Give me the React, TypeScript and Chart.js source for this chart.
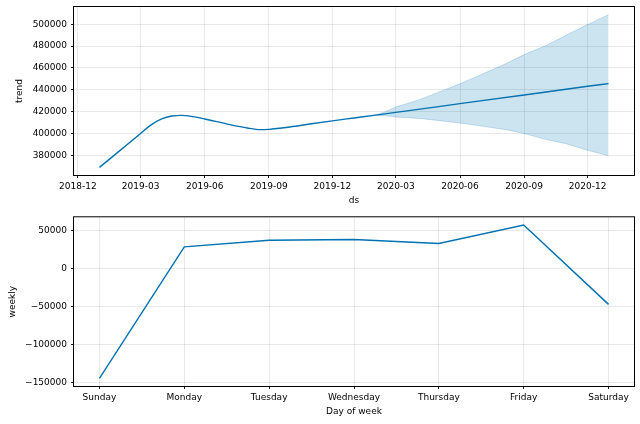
import React, { useEffect, useRef } from "react";
import { Chart, registerables } from "chart.js";

Chart.register(...registerables);

// ---- Trend panel data ----
const trendDates = [
  "2019-01-01", "2019-03-01", "2019-03-15", "2019-04-01", "2019-04-15",
  "2019-04-28", "2019-05-15", "2019-06-01", "2019-07-01", "2019-08-01", "2019-08-20",
  "2019-09-01", "2019-10-01", "2019-11-01", "2019-12-01", "2020-01-01", "2020-02-01",
  "2020-03-01", "2020-06-01", "2020-09-01", "2020-12-01", "2020-12-31",
];
const trendValues = [
  369000, 400000, 407500, 413600, 416000,
  416600, 415400, 413300, 409000, 405000, 403500,
  403800, 406000, 408900, 411600, 414200, 416800,
  419300, 427300, 435300, 443200, 445700,
];

const bandDates = [
  "2020-01-31", "2020-02-15", "2020-03-01", "2020-04-04", "2020-06-01", "2020-06-29",
  "2020-08-06", "2020-09-01", "2020-10-03", "2020-10-31", "2020-12-01", "2020-12-31",
];
const bandUpper = [
  416800, 420000, 424200, 431000, 445600, 453300,
  464000, 472200, 480700, 489900, 499700, 508800,
];
const bandLower = [
  416800, 416200, 415100, 413800, 409600, 407000,
  403500, 399900, 394400, 390700, 384600, 379700,
];

const trendYTicks = [380000, 400000, 420000, 440000, 460000, 480000, 500000];
const trendXTickLabels = [
  "2018-12", "2019-03", "2019-06", "2019-09", "2019-12",
  "2020-03", "2020-06", "2020-09", "2020-12",
];

// ---- Weekly panel data ----
const weekdays = ["Sunday", "Monday", "Tuesday", "Wednesday", "Thursday", "Friday", "Saturday"];
const weeklyValues = [-144300, 29000, 37800, 38700, 33400, 57900, -46800];
const weeklyYTicks = [-150000, -100000, -50000, 0, 50000];

const LINE = "#0072B2";
const BAND = "rgba(0,114,178,0.2)";
const GRID = "rgba(128,128,128,0.2)";
const FONT = "DejaVu Sans";

const fmt = (n: number) => (n < 0 ? "\u2212" + Math.abs(n) : String(n));
const ms = (d: string) => Date.parse(d);

const boxPlugin = {
  id: "box",
  afterDatasetsDraw(chart: any) {
    const { ctx, chartArea: a } = chart;
    ctx.save();
    ctx.strokeStyle = "#000";
    ctx.lineWidth = 1;
    ctx.strokeRect(a.left - 0.5, a.top - 0.5, a.right - a.left + 1, a.bottom - a.top + 1);
    ctx.restore();
  },
};

function commonScaleStyle() {
  return {
    grid: { color: GRID, lineWidth: 0.9, tickColor: "#000", tickLength: 3, drawTicks: true },
    border: { display: false },
  };
}

const fitX = (h: number) => (s: any) => {
  s.height = h;
  s.paddingLeft = 0;
  s.paddingRight = 0;
  s.paddingTop = 0;
  s.paddingBottom = 0;
};
const fitY = (w: number) => (s: any) => {
  s.width = w;
  s.paddingLeft = 0;
  s.paddingRight = 0;
  s.paddingTop = 0;
  s.paddingBottom = 0;
};

export default function App() {
  const topRef = useRef<HTMLCanvasElement>(null);
  const botRef = useRef<HTMLCanvasElement>(null);

  useEffect(() => {
    Chart.defaults.font.family = FONT;
    Chart.defaults.font.size = 9;
    Chart.defaults.color = "#000";

    // ---- top chart ----
    const tx = trendDates.map(ms);
    const bx = bandDates.map(ms);
    const allX = tx.concat(bx);
    const xMin0 = Math.min(...allX);
    const xMax0 = Math.max(...allX);
    const xm = (xMax0 - xMin0) * 0.05;
    const allY = trendValues.concat(bandUpper, bandLower);
    const yMin0 = Math.min(...allY);
    const yMax0 = Math.max(...allY);
    const ym = (yMax0 - yMin0) * 0.05;
    const xTickVals = trendXTickLabels.map((l) => ms(l + "-01"));

    const top = new Chart(topRef.current!, {
      type: "line",
      data: {
        datasets: [
          {
            data: tx.map((x, i) => ({ x, y: trendValues[i] })),
            borderColor: LINE,
            borderWidth: 1.4,
            pointRadius: 0,
            cubicInterpolationMode: "monotone",
            fill: false,
          },
          {
            data: bx.map((x, i) => ({ x, y: bandUpper[i] })),
            borderColor: BAND,
            borderWidth: 1,
            pointRadius: 0,
            fill: false,
          },
          {
            data: bx.map((x, i) => ({ x, y: bandLower[i] })),
            borderColor: BAND,
            borderWidth: 1,
            pointRadius: 0,
            backgroundColor: BAND,
            fill: "-1",
          },
        ],
      },
      options: {
        animation: false,
        responsive: false,
        layout: { padding: { left: 0, right: 6, top: 7, bottom: 0 } },
        plugins: { legend: { display: false }, tooltip: { enabled: false } },
        scales: {
          x: {
            type: "linear",
            min: xMin0 - xm,
            max: xMax0 + xm,
            ...commonScaleStyle(),
            afterBuildTicks: (s: any) => {
              s.ticks = xTickVals.map((v) => ({ value: v }));
            },
            afterFit: fitX(37),
            ticks: {
              maxRotation: 0,
              autoSkip: false,
              padding: 3.5,
              callback: (_v: any, i: number) => trendXTickLabels[i],
            },
            title: { display: true, text: "ds", padding: { top: 0, bottom: 5.6 } },
          },
          y: {
            type: "linear",
            min: yMin0 - ym,
            max: yMax0 + ym,
            ...commonScaleStyle(),
            afterBuildTicks: (s: any) => {
              s.ticks = trendYTicks.map((v) => ({ value: v }));
            },
            afterFit: fitY(74),
            ticks: { padding: 4, callback: (v: any) => fmt(Number(v)) },
            title: { display: true, text: "trend", padding: { top: 14, bottom: 0 } },
          },
        },
      },
      plugins: [boxPlugin],
    } as any);

    // ---- bottom chart ----
    const wMin0 = Math.min(...weeklyValues);
    const wMax0 = Math.max(...weeklyValues);
    const wm = (wMax0 - wMin0) * 0.05;
    const n = weekdays.length - 1;

    const bot = new Chart(botRef.current!, {
      type: "line",
      data: {
        datasets: [
          {
            data: weeklyValues.map((y, i) => ({ x: i, y })),
            borderColor: LINE,
            borderWidth: 1.4,
            pointRadius: 0,
            tension: 0,
            fill: false,
          },
        ],
      },
      options: {
        animation: false,
        responsive: false,
        layout: { padding: { left: 0, right: 6, top: 5.3, bottom: 0 } },
        plugins: { legend: { display: false }, tooltip: { enabled: false } },
        scales: {
          x: {
            type: "linear",
            min: -0.05 * n,
            max: n + 0.05 * n,
            ...commonScaleStyle(),
            afterBuildTicks: (s: any) => {
              s.ticks = weekdays.map((_d, i) => ({ value: i }));
            },
            afterFit: fitX(38),
            ticks: {
              maxRotation: 0,
              autoSkip: false,
              padding: 3.5,
              callback: (_v: any, i: number) => weekdays[i],
            },
            title: { display: true, text: "Day of week", padding: { top: 0, bottom: 6.6 } },
          },
          y: {
            type: "linear",
            min: wMin0 - wm,
            max: wMax0 + wm,
            ...commonScaleStyle(),
            afterBuildTicks: (s: any) => {
              s.ticks = weeklyYTicks.map((v) => ({ value: v }));
            },
            afterFit: fitY(74),
            ticks: { padding: 4, callback: (v: any) => fmt(Number(v)) },
            title: { display: true, text: "weekly", padding: { top: 7, bottom: 0 } },
          },
        },
      },
      plugins: [boxPlugin],
    } as any);

    return () => {
      top.destroy();
      bot.destroy();
    };
  }, []);

  return (
    <div
      style={{
        position: "fixed",
        left: 0,
        top: 0,
        width: 640,
        height: 424,
        background: "#fff",
      }}
    >
      <canvas
        ref={topRef}
        width={640}
        height={212}
        style={{ position: "absolute", left: 0, top: 0, width: 640, height: 212 }}
      />
      <canvas
        ref={botRef}
        width={640}
        height={212}
        style={{ position: "absolute", left: 0, top: 212, width: 640, height: 212 }}
      />
    </div>
  );
}
